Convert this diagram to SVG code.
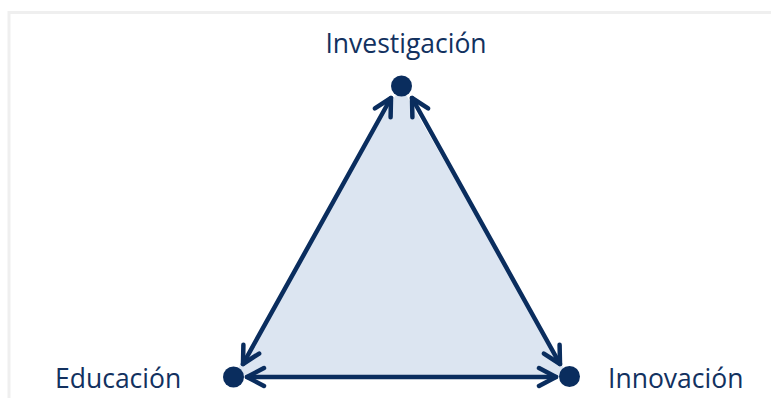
<svg xmlns="http://www.w3.org/2000/svg" width="771" height="398" viewBox="0 0 771 398">
<style>
.lbl{font-family:"Open Sans","Liberation Sans",sans-serif;font-size:26.5px;fill:#12315f}
.edge{stroke:#0a2d5e;stroke-width:4.5;fill:none;stroke-linecap:round}
.dot{fill:#0a2d5e}
</style>
<defs>
<marker id="ah" markerUnits="userSpaceOnUse" viewBox="-20 -12 24 24" refX="0" refY="0" markerWidth="24" markerHeight="24" orient="auto-start-reverse">
<path d="M-17,-9 L0,0 L-17,9" fill="none" stroke="#0a2d5e" stroke-width="4.5" stroke-linecap="round" stroke-linejoin="round"/>
</marker>
</defs>
<rect x="0" y="0" width="771" height="398" fill="#ffffff"/>
<path d="M9,398 V12.5 H771" fill="none" stroke="#efefef" stroke-width="3"/>
<polygon points="401,86 233,377 569,377" fill="#dce5f1"/>
<g id="connectors">
<line class="edge" x1="243" y1="364" x2="391" y2="98" marker-start="url(#ah)" marker-end="url(#ah)"/>
<line class="edge" x1="412" y1="98" x2="560" y2="364" marker-start="url(#ah)" marker-end="url(#ah)"/>
<line class="edge" x1="247" y1="377" x2="556" y2="377" marker-start="url(#ah)" marker-end="url(#ah)"/>
</g>
<g id="investigacion">
<circle class="dot" cx="401.5" cy="86" r="10.5"/>
<text class="lbl" x="406" y="53" text-anchor="middle">Investigación</text>
</g>
<g id="educacion">
<circle class="dot" cx="233.5" cy="377" r="10.5"/>
<text class="lbl" x="55" y="388">Educación</text>
</g>
<g id="innovacion">
<circle class="dot" cx="569.5" cy="376.5" r="10.5"/>
<text class="lbl" x="608" y="388">Innovación</text>
</g>
</svg>
